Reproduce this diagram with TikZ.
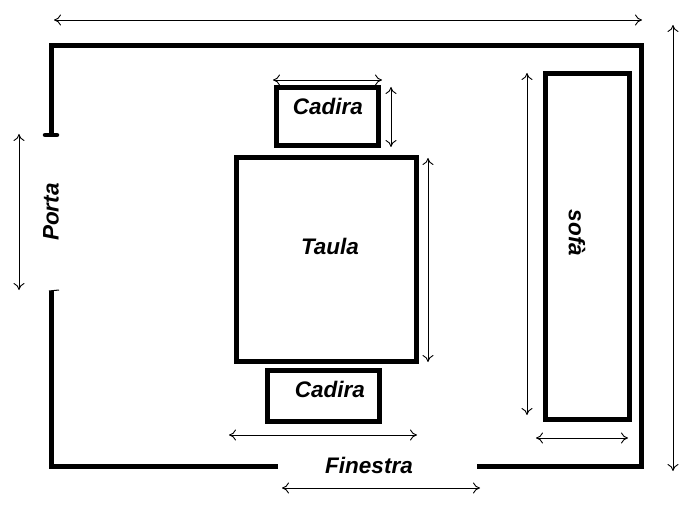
\documentclass[tikz,border=0pt]{standalone}
\usepackage{fontspec}
\setmainfont{Liberation Sans}
\usetikzlibrary{arrows.meta, positioning}

\tikzset{
  paret/.style={line width=5pt},
  moble/.style={draw, rectangle, line width=5pt, inner sep=0pt},
  cota/.style={{To[length=7pt,width=11pt]}-{To[length=7pt,width=11pt]}, line width=0.9pt},
  etiq/.style={font=\fontsize{22.5}{26}\selectfont\bfseries\itshape},
}

\begin{document}
\begin{tikzpicture}[x=1pt, y=-1pt]
\useasboundingbox (0,0) rectangle (697,508);

% parets
\draw[paret] (51.5,135) -- (51.5,45.5) -- (641,45.5) -- (641,466) -- (477,466);
\draw[paret] (278,466) -- (51.5,466) -- (51.5,291);
\draw[line width=4.5pt, line cap=round] (45,135) -- (57,135);
\draw[line width=1pt] (49,291) -- (59,290);

% mobles
\node[moble, minimum width=102pt, minimum height=57.5pt] (cadira1) at (327,116.75) {};
\node[moble, minimum width=179.5pt, minimum height=203.5pt] (taula) at (326.25,259.25) {};
\node[moble, minimum width=111.5pt, minimum height=51pt] (cadira2) at (323.25,395.5) {};
\node[moble, minimum width=83.5pt, minimum height=345pt] (sofa) at (587.5,246.5) {};

% textos
\node[etiq] (tcadira1) at (328,106) {Cadira};
\node[etiq] (ttaula) at (330,246) {Taula};
\node[etiq] (tcadira2) at (330,389) {Cadira};
\node[etiq, rotate=-90] (tsofa) at (577,233) {sofà};
\node[etiq, rotate=90] (tporta) at (51,212) {Porta};
\node[etiq] (tfinestra) at (369,465) {Finestra};

% cotes
\coordinate (ample1) at (54,20);    \coordinate (ample2) at (642,20);
\coordinate (llarg1) at (673,25);   \coordinate (llarg2) at (673,471);
\coordinate (porta1) at (19,134);   \coordinate (porta2) at (19,290);
\coordinate (fin1) at (282,488);    \coordinate (fin2) at (480,488);
\coordinate (cad1a) at (273,80);    \coordinate (cad1b) at (382,80);
\coordinate (cad1c) at (391,87);    \coordinate (cad1d) at (391,147);
\coordinate (tau1) at (428,158);    \coordinate (tau2) at (428,362);
\coordinate (cad2a) at (229,435);   \coordinate (cad2b) at (417,435);
\coordinate (sof1) at (527,73);     \coordinate (sof2) at (527,415);
\coordinate (sof3) at (536,438);    \coordinate (sof4) at (628,438);

\draw[cota] (ample1) -- (ample2);
\draw[cota] (llarg1) -- (llarg2);
\draw[cota] (porta1) -- (porta2);
\draw[cota] (fin1) -- (fin2);
\draw[cota] (cad1a) -- (cad1b);
\draw[cota] (cad1c) -- (cad1d);
\draw[cota] (tau1) -- (tau2);
\draw[cota] (cad2a) -- (cad2b);
\draw[cota] (sof1) -- (sof2);
\draw[cota] (sof3) -- (sof4);
\end{tikzpicture}
\end{document}
